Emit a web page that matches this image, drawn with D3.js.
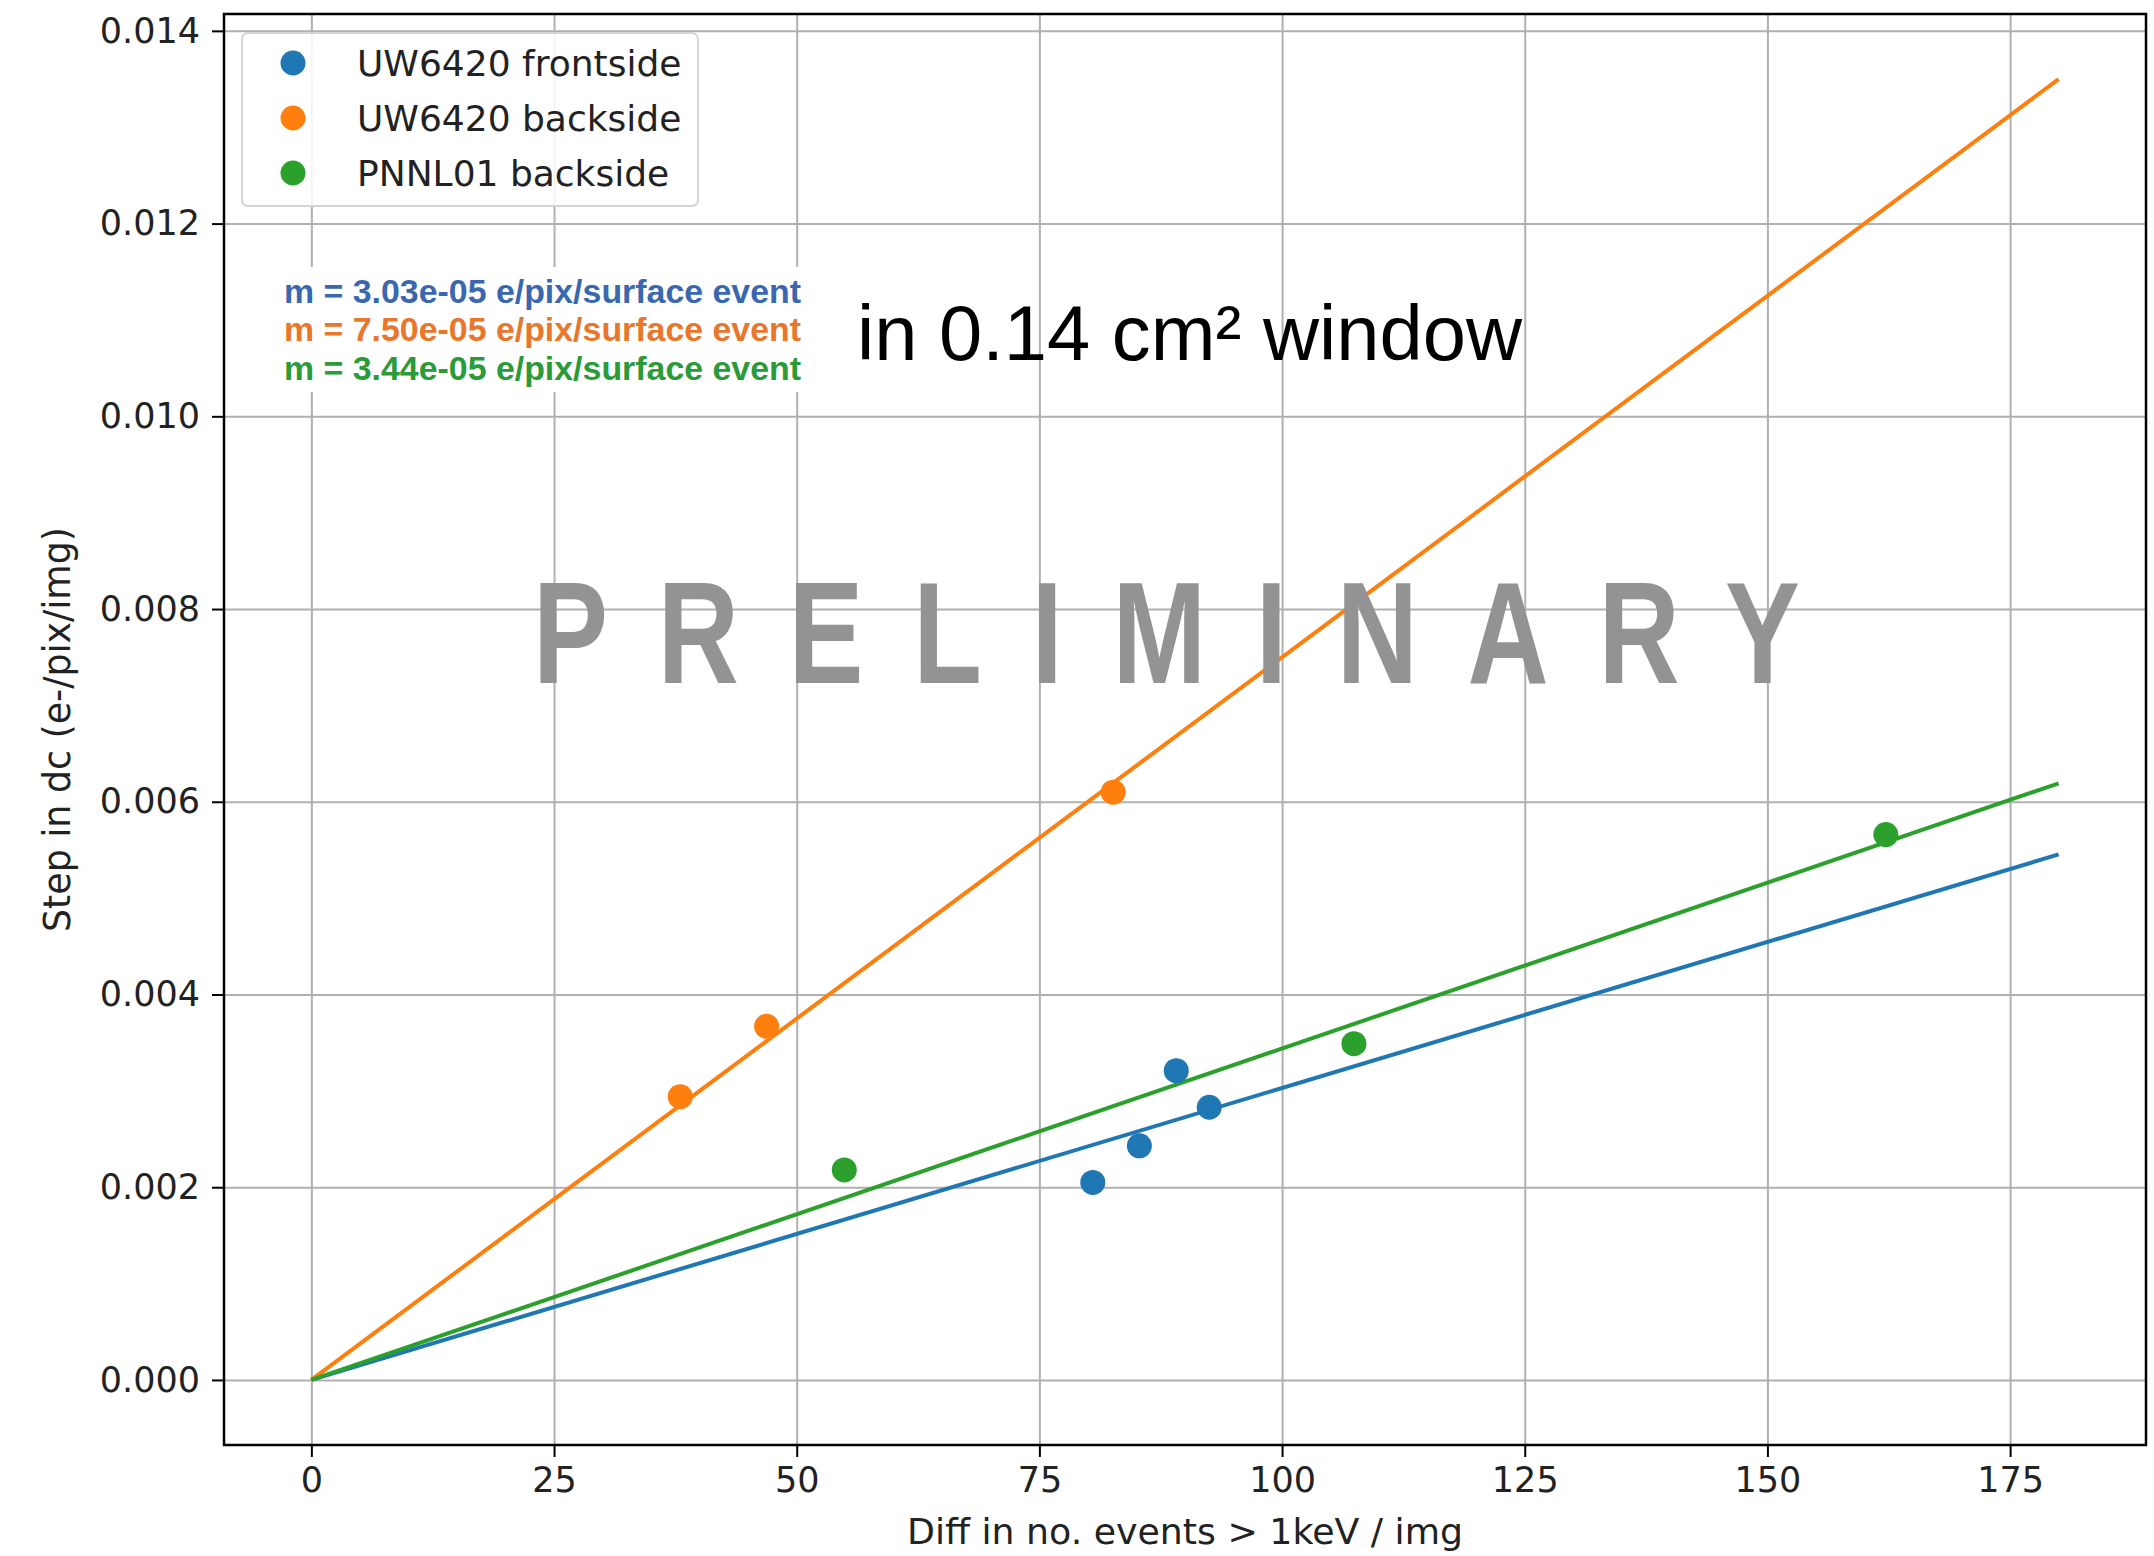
<!DOCTYPE html>
<html>
<head>
<meta charset="utf-8">
<script src="https://cdn.jsdelivr.net/npm/d3@7"></script>
<style>
  body { margin: 0; background: #fff; }
  svg { display: block; }
  .axis path, .axis line { stroke: #000; }
  .grid line { stroke: #b0b0b0; stroke-width: 2; }
  .grid path { display: none; }
</style>
</head>
<body>
<div class="scatter-plot-container"></div>
<script>
//Data
const seriesNames = ['UW6420 frontside', 'UW6420 backside', 'PNNL01 backside'];
const seriesColors = ['#1f77b4', '#ff7f0e', '#2ca02c'];
const textColors = ['#3a68b0', '#e8772b', '#2a9b38'];

// points
const frontX = [80.5, 85.3, 89.1, 92.5];
const frontY = [0.00205, 0.00243, 0.00321, 0.00283];
const backX = [38.0, 46.9, 82.6];
const backY = [0.00294, 0.00367, 0.00610];
const pnnlX = [54.9, 107.4, 162.2];
const pnnlY = [0.00218, 0.00349, 0.00566];

// fit slopes (e/pix per surface event) and fit x-range
const slopes = [3.03e-05, 7.50e-05, 3.44e-05];
const slopeLabels = ['3.03e-05', '7.50e-05', '3.44e-05'];
const fitX = [0, 180];

const xTicks = [0, 25, 50, 75, 100, 125, 150, 175];
const yTicks = [0, 0.002, 0.004, 0.006, 0.008, 0.010, 0.012, 0.014];
const xDomain = [-9, 189];
const yDomain = [-0.000675, 0.014175];

//Canvas
const svg_width = 2154;
const svg_height = 1556;
const margin = { top: 14, right: 8, bottom: 111, left: 224 };

const svg = d3.select('.scatter-plot-container').append('svg')
    .attr('width', svg_width).attr('height', svg_height);

const xScale = d3.scaleLinear().domain(xDomain).range([margin.left, svg_width - margin.right]);
const yScale = d3.scaleLinear().domain(yDomain).range([svg_height - margin.bottom, margin.top]);

// 格線
svg.append('g').attr('class', 'grid')
    .attr('transform', `translate(0,${margin.top})`)
    .call(d3.axisBottom(xScale).tickValues(xTicks).tickSize(svg_height - margin.top - margin.bottom).tickFormat(''));
svg.append('g').attr('class', 'grid')
    .attr('transform', `translate(${margin.left},0)`)
    .call(d3.axisRight(yScale).tickValues(yTicks).tickSize(svg_width - margin.left - margin.right).tickFormat(''));

// annotation box (white, covers grid)
const mX = 284, mY0 = 291, mStep = 38.5;
svg.append('rect')
    .attr('x', mX - 8).attr('y', mY0 - 24)
    .attr('width', 534).attr('height', mStep * 2 + 48)
    .attr('fill', '#fff');

//Fit lines
const series = [
    { xs: frontX, ys: frontY },
    { xs: backX, ys: backY },
    { xs: pnnlX, ys: pnnlY }
];
const line = d3.line().x(d => xScale(d[0])).y(d => yScale(d[1]));
slopes.forEach((m, i) => {
    svg.append('path')
        .datum(fitX.map(x => [x, m * x]))
        .attr('d', line)
        .attr('fill', 'none')
        .attr('stroke', seriesColors[i])
        .attr('stroke-width', 4);
});

//Points
series.forEach((s, i) => {
    svg.selectAll(`.pt${i}`).data(s.xs.map((x, j) => [x, s.ys[j]])).enter()
        .append('circle').attr('class', `pt${i}`)
        .attr('cx', d => xScale(d[0]))
        .attr('cy', d => yScale(d[1]))
        .attr('r', 12.5)
        .style('fill', seriesColors[i]);
});

//Axes frame
svg.append('rect')
    .attr('x', margin.left).attr('y', margin.top)
    .attr('width', svg_width - margin.left - margin.right)
    .attr('height', svg_height - margin.top - margin.bottom)
    .attr('fill', 'none').attr('stroke', '#000').attr('stroke-width', 2.5);

const xAxis = d3.axisBottom(xScale).tickValues(xTicks).tickSizeInner(12).tickSizeOuter(0).tickPadding(10);
const xAxisDraw = svg.append('g').attr('class', 'x axis')
    .attr('transform', `translate(0,${svg_height - margin.bottom})`)
    .call(xAxis);
xAxisDraw.select('.domain').remove();
xAxisDraw.selectAll('line').attr('stroke-width', 2);
xAxisDraw.selectAll('text')
    .style('font-family', '"DejaVu Sans"').style('font-size', '35px').attr('fill', '#222');

const yAxis = d3.axisLeft(yScale).tickValues(yTicks).tickFormat(d3.format('.3f'))
    .tickSizeInner(12).tickSizeOuter(0).tickPadding(12);
const yAxisDraw = svg.append('g').attr('class', 'y axis')
    .attr('transform', `translate(${margin.left},0)`)
    .call(yAxis);
yAxisDraw.select('.domain').remove();
yAxisDraw.selectAll('line').attr('stroke-width', 2);
yAxisDraw.selectAll('text')
    .style('font-family', '"DejaVu Sans"').style('font-size', '35px').attr('fill', '#222');

// axis labels
svg.append('text')
    .attr('x', (margin.left + svg_width - margin.right) / 2).attr('y', 1544)
    .attr('text-anchor', 'middle')
    .attr('textLength', 556).attr('lengthAdjust', 'spacingAndGlyphs')
    .style('font-family', '"DejaVu Sans"').style('font-size', '35px').attr('fill', '#222')
    .text('Diff in no. events > 1keV / img');

svg.append('text')
    .attr('transform', `translate(70,${(margin.top + svg_height - margin.bottom) / 2}) rotate(-90)`)
    .attr('text-anchor', 'middle')
    .attr('textLength', 405).attr('lengthAdjust', 'spacingAndGlyphs')
    .style('font-family', '"DejaVu Sans"').style('font-size', '37px').attr('fill', '#222')
    .text('Step in dc (e-/pix/img)');

//Legend
const legend = svg.append('g').attr('class', 'legend');
legend.append('rect')
    .attr('x', 242).attr('y', 33).attr('width', 456).attr('height', 173)
    .attr('rx', 6).attr('fill', '#fff').attr('fill-opacity', 0.85)
    .attr('stroke', '#d5d5d5').attr('stroke-width', 2);
seriesNames.forEach((name, i) => {
    const cy = 63 + i * 55;
    legend.append('circle').attr('cx', 293).attr('cy', cy).attr('r', 12.5).style('fill', seriesColors[i]);
    legend.append('text').attr('x', 357).attr('y', cy).attr('dy', '0.36em')
        .style('font-family', '"DejaVu Sans"').style('font-size', '36px').attr('fill', '#222')
        .text(name);
});

// slope annotations (narrow bold look: squeeze glyphs to width)
slopeLabels.forEach((s, i) => {
    svg.append('text')
        .attr('x', mX).attr('y', mY0 + i * mStep).attr('dy', '0.36em')
        .attr('textLength', 517).attr('lengthAdjust', 'spacingAndGlyphs')
        .style('font-family', '"Liberation Sans", Arial, sans-serif')
        .style('font-weight', 'bold').style('font-size', '33px')
        .attr('fill', textColors[i])
        .text(`m = ${s} e/pix/surface event`);
});

svg.append('text')
    .attr('x', 857).attr('y', 360)
    .attr('textLength', 665).attr('lengthAdjust', 'spacingAndGlyphs')
    .style('font-family', '"Liberation Sans", Arial, sans-serif').style('font-size', '78px')
    .attr('fill', '#000')
    .text('in 0.14 cm\u00B2 window');

// watermark, horizontally condensed
const sx = 0.78;
svg.append('g')
    .attr('transform', `translate(533,683) scale(${sx},1)`)
    .append('text')
    .attr('x', 0).attr('y', 0)
    .attr('textLength', 1267 / sx).attr('lengthAdjust', 'spacing')
    .style('font-family', '"Liberation Sans", Arial, sans-serif')
    .style('font-weight', 'bold').style('font-size', '144px')
    .attr('fill', '#939393')
    .text('PRELIMINARY');
</script>
</body>
</html>
